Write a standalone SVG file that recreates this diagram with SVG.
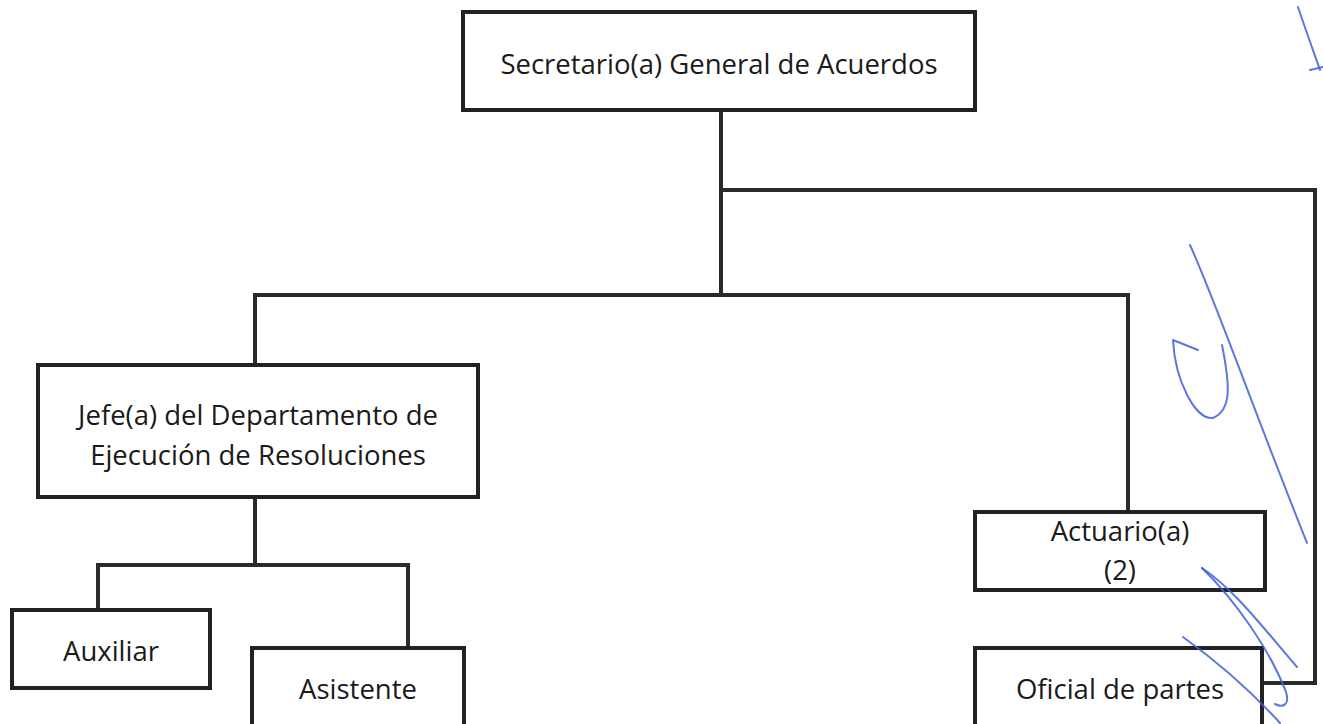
<svg xmlns="http://www.w3.org/2000/svg" width="1323" height="724" viewBox="0 0 1323 724">
<style>
.box{fill:#fff;stroke:#222;stroke-width:4}
.conn{fill:none;stroke:#2a2a2a;stroke-width:4;stroke-linejoin:miter}
.t{font-family:"Open Sans","Noto Sans",sans-serif;font-size:27.5px;fill:#1a1a1a;text-anchor:middle}
.ink{fill:none;stroke:#4060d8;stroke-width:2;stroke-linecap:round;stroke-linejoin:round;opacity:0.85}
</style>
<rect width="1323" height="724" fill="#fff"/>
<g id="connectors">
<path class="conn" d="M721 110 V295"/>
<path class="conn" d="M721 190 H1315 V683 H1262"/>
<path class="conn" d="M255 365 V295 H1128 V512"/>
<path class="conn" d="M255 497 V565"/>
<path class="conn" d="M98 610 V565 H408 V648"/>
</g>
<g id="n-secretario"><rect class="box" x="463" y="12" width="512" height="98"/><text class="t" x="719" y="74">Secretario(a) General de Acuerdos</text></g>
<g id="n-jefe"><rect class="box" x="38" y="365" width="440" height="132"/><text class="t" x="258" y="425">Jefe(a) del Departamento de</text><text class="t" x="258" y="465">Ejecución de Resoluciones</text></g>
<g id="n-auxiliar"><rect class="box" x="12" y="610" width="198" height="78"/><text class="t" x="111" y="661">Auxiliar</text></g>
<g id="n-asistente"><rect class="box" x="252" y="648" width="212" height="90"/><text class="t" x="358" y="699">Asistente</text></g>
<g id="n-actuario"><rect class="box" x="975" y="512" width="290" height="78"/><text class="t" x="1120" y="541">Actuario(a)</text><text class="t" x="1120" y="580">(2)</text></g>
<g id="n-oficial"><rect class="box" x="975" y="648" width="287" height="90"/><text class="t" x="1120" y="699">Oficial de partes</text></g>
<g id="signature">
<path class="ink" d="M1298 7 C1305 28 1313 50 1320 70"/>
<path class="ink" stroke-width="3" d="M1310 70 L1323 67"/>
<path class="ink" d="M1190 245 C1215 300 1250 400 1307 543"/>
<path class="ink" d="M1198 350 L1173 340 C1175 380 1195 420 1213 418 C1232 410 1230 385 1222 345"/>
<path class="ink" stroke-width="4" d="M1202 568 C1235 590 1265 630 1297 667"/>
<path class="ink" stroke-width="3" d="M1202 568 C1235 600 1270 650 1286 692 C1290 705 1283 708 1275 704"/>
<path class="ink" stroke-width="4" d="M1183 637 C1215 660 1250 690 1280 723"/>
</g>
</svg>
